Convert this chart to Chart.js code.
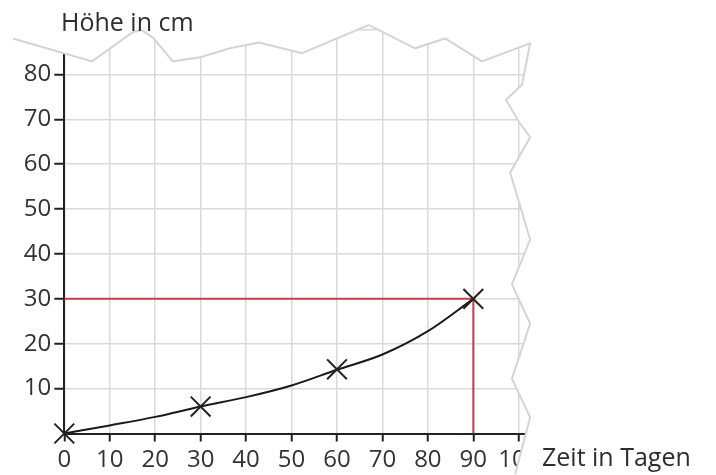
<!DOCTYPE html>
<html>
<head>
<meta charset="utf-8">
<script src="https://cdn.jsdelivr.net/npm/chart.js@4.4.1/dist/chart.umd.min.js"></script>
<style>
  html, body { margin: 0; padding: 0; background: #fff; }
  #wrap { position: relative; width: 716px; height: 475px; }
  .title { position: absolute; font-family: "Open Sans", sans-serif; font-size: 25px; line-height: 25px; color: #2e2e2e; white-space: nowrap; }
</style>
</head>
<body>
<div id="wrap">
  <canvas id="chart" width="716" height="475"></canvas>
  <div class="title" style="left:61px; top:9px;">Höhe in cm</div>
  <div class="title" style="left:542px; top:444px;">Zeit in Tagen</div>
</div>
<script>
// DATA
const days = [0, 10, 20, 30, 40, 50, 60, 70, 80, 90];
const heightCurve = [0, 1.8, 3.7, 6.0, 8.1, 10.7, 14.2, 17.6, 22.8, 30];

const measuredDays = [0, 30, 60, 90];
const measuredHeight = [0, 6, 14.3, 30];

// red reading lines: 30 cm after 90 days
const guideDays = [0, 90, 90];
const guideHeight = [30, 30, 0];

const xTickValues = [0, 10, 20, 30, 40, 50, 60, 70, 80, 90, 100];
const yTickValues = [0, 10, 20, 30, 40, 50, 60, 70, 80, 90];

// torn paper edge (days / cm)
const edgeDays = [-11.3, 6.1, 14.9, 16.9, 19.5, 23.9, 29.9, 36.5, 42.8, 52.3, 60.0, 67.0, 77.2, 83.8, 91.9, 102.5,
  100.7, 97.2, 100.0, 102.5, 98.1, 102.5, 98.5, 102.5, 98.5, 102.5, 99.2];
const edgeHeight = [88.0, 82.9, 89.3, 89.9, 88.2, 82.9, 83.8, 85.8, 87.1, 84.7, 88.0, 91.0, 85.8, 88.0, 82.9, 86.9,
  77.7, 74.3, 69.5, 66.0, 58.1, 43.2, 33.2, 24.5, 12.2, 3.6, -9.1];

const toPoints = (xs, ys) => xs.map((x, i) => ({ x: x, y: ys[i] }));

const INK = '#222';
const GRID = '#d9d9d9';
const FONT = { family: 'Open Sans', size: 24 };

// white paper outside the torn edge + the grey edge line
const tornPaper = {
  id: 'tornPaper',
  afterDatasetsDraw(chart) {
    const { ctx, scales } = chart;
    const pts = edgeDays.map((d, i) => [scales.x.getPixelForValue(d), scales.y.getPixelForValue(edgeHeight[i])]);
    ctx.save();
    ctx.beginPath();
    ctx.moveTo(0, 0);
    ctx.lineTo(0, pts[0][1]);
    pts.forEach((p) => ctx.lineTo(p[0], p[1]));
    ctx.lineTo(chart.width, chart.height);
    ctx.lineTo(chart.width, 0);
    ctx.closePath();
    ctx.fillStyle = '#fff';
    ctx.fill();
    ctx.beginPath();
    pts.forEach((p, i) => (i ? ctx.lineTo(p[0], p[1]) : ctx.moveTo(p[0], p[1])));
    ctx.strokeStyle = '#d4d4d4';
    ctx.lineWidth = 2;
    ctx.lineJoin = 'miter';
    ctx.stroke();
    ctx.restore();
  },
};

new Chart(document.getElementById('chart'), {
  type: 'scatter',
  data: {
    datasets: [
      {
        data: toPoints(measuredDays, measuredHeight),
        pointStyle: 'crossRot',
        pointRadius: 14,
        borderColor: INK,
        borderWidth: 2,
        showLine: false,
        clip: false,
      },
      {
        data: toPoints(days, heightCurve),
        showLine: true,
        borderColor: '#1a1a1a',
        borderWidth: 2,
        pointRadius: 0,
        cubicInterpolationMode: 'monotone',
      },
      {
        data: toPoints(guideDays, guideHeight),
        showLine: true,
        borderColor: '#c43f4f',
        borderWidth: 2,
        pointRadius: 0,
        tension: 0,
      },
    ],
  },
  options: {
    responsive: false,
    animation: false,
    devicePixelRatio: 1,
    layout: { padding: { top: 10, right: 183.6, left: 0, bottom: 0 } },
    plugins: { legend: { display: false }, tooltip: { enabled: false } },
    scales: {
      x: {
        type: 'linear',
        min: 0,
        max: 103,
        afterBuildTicks: (s) => { s.ticks = xTickValues.map((v) => ({ value: v })); },
        afterFit: (s) => { s.height = 41.5; s.paddingLeft = 0; s.paddingRight = 0; },
        ticks: { color: '#333', font: FONT, padding: 4, maxRotation: 0, autoSkip: false, callback: (v) => String(v) },
        grid: { color: GRID, lineWidth: 1.5, tickColor: INK, tickLength: 8, tickWidth: 2 },
        border: { display: true, color: INK, width: 2 },
      },
      y: {
        min: 0,
        max: 93,
        afterBuildTicks: (s) => { s.ticks = yTickValues.map((v) => ({ value: v })); },
        afterFit: (s) => { s.width = 64.3; s.paddingTop = 0; s.paddingBottom = 0; },
        ticks: { color: '#333', font: FONT, padding: 3, autoSkip: false, callback: (v) => (v === 0 || v === 90 ? '' : String(v)) },
        grid: {
          color: GRID,
          lineWidth: 1.5,
          tickColor: (c) => (c.tick && c.tick.value === 0 ? 'rgba(0,0,0,0)' : INK),
          tickLength: 10,
          tickWidth: 2,
        },
        border: { display: true, color: INK, width: 2 },
      },
    },
  },
  plugins: [tornPaper],
});
</script>
</body>
</html>
